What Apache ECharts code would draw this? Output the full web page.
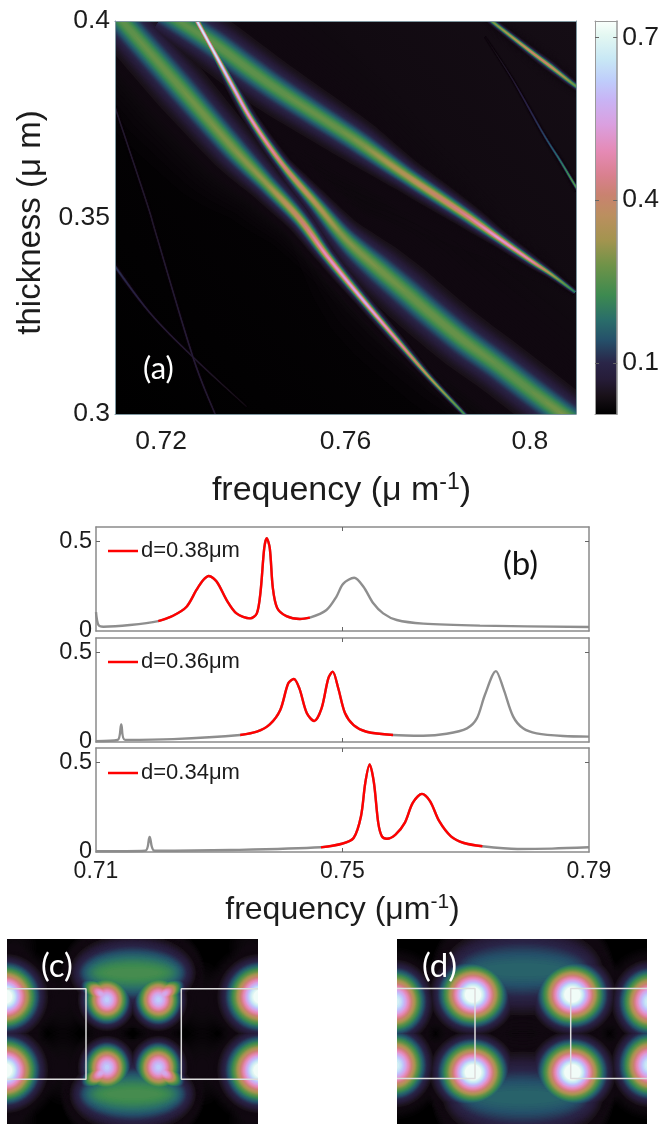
<!DOCTYPE html>
<html><head><meta charset="utf-8">
<style>html,body{margin:0;padding:0;background:#fff}#c{width:662px;height:1124px}</style>
<script src="https://cdn.jsdelivr.net/npm/echarts@6/dist/echarts.min.js"></script>
</head><body><div id="c"></div>
<script>
// ---------- colour scale ----------
const cmapValues = [0,.04,.07,.1,.142,.18,.225,.28,.326,.372,.41,.446,.49,.54,.585,.62,.66,.705,.73];
const cmapColors = ['#000000','#191119','#261c38','#2a2548','#25506a','#2a6e6a','#3d8a50','#6f9348','#a3944f','#bb8f5f','#c98270','#d9808f','#e58ab5','#daa0e0','#c8b4f5','#bfcdfb','#c8e8f5','#e4f8f2','#fafffc'];
const contourLevels = [.006,.008,.01,.012,.014,.016,.018,.02,.0225,.025,.0275,.03,.0325,.035,.04,.045,.05,.055,.06,.065,.07,.075,.08,.085,.09,.095,.1,.105,.11,.115,.12,.125,.13,.135,.14,.145,.15,.155,.16,.165,.17,.175,.18,.185,.19,.195,.2,.205,.21,.215,.22,.225,.23,.235,.24,.245,.25,.26,.27,.28,.29,.3,.31,.32,.33,.34,.35,.36,.37,.38,.39,.4,.41,.42,.43,.44,.45,.46,.47,.48,.49,.5,.52,.54,.56,.58,.6,.62,.64,.66,.68,.7,.72];

// ---------- panel (a): resonance ridges [frequency, thickness, peak, half width] ----------
const ridgeA = [[.7089,.4036,.26,.0025],[.7139,.3969,.27,.0025],[.7241,.3832,.28,.0025],[.7356,.3677,.30,.0021],[.743,.3585,.32,.0015],[.7501,.3496,.41,.001],[.756,.3402,.52,.00065],[.7638,.329,.6,.00045],[.7712,.3188,.5,.0004],[.7783,.3092,.38,.0003],[.7855,.3003,.25,.00026],[.787,.2982,.22,.00026]];
const ridgeB = [[.7267,.4031,.72,.0003],[.7278,.4,.72,.00033],[.7321,.3908,.7,.00035],[.7356,.3832,.62,.0004],[.7399,.3743,.54,.00045],[.7464,.3634,.45,.0006],[.7538,.3532,.36,.0011],[.7588,.3461,.31,.0016],[.7625,.3417,.3,.002],[.7675,.3366,.29,.0024],[.7733,.3308,.28,.0026],[.7783,.3257,.28,.0026],[.7855,.3188,.28,.0026],[.7929,.3125,.27,.0026],[.8,.3061,.27,.0026],[.8059,.301,.29,.0024],[.8109,.2967,.3,.0024]];
const ridgeC = [[.7208,.4023,.26,.0025],[.7313,.3944,.27,.0025],[.7393,.3875,.27,.0025],[.7464,.3817,.27,.0024],[.7588,.3723,.28,.0021],[.7638,.3684,.3,.0019],[.7733,.3606,.36,.0013],[.7855,.3511,.45,.00087],[.7929,.345,.55,.00055],[.8,.3392,.5,.00043],[.8048,.3354,.35,.00035],[.8098,.331,.2,.00028]];
const ridgeD = [[.7905,.4013,.2,.0003],[.792,.3997,.3,.00033],[.8,.3924,.42,.00035],[.8044,.3885,.42,.00039],[.8091,.3842,.3,.00035],[.8109,.3827,.25,.00035]];
const ridgeE = [[.7903,.3959,.03,.00017],[.7963,.385,.07,.00017],[.8028,.3715,.14,.00017],[.8065,.3646,.2,.00017],[.8091,.3595,.27,.00017],[.8104,.357,.28,.00017]];
const ridgeF = [[.71,.3781,.07,.00018],[.7169,.3537,.07,.00018],[.7191,.345,.07,.00018],[.7269,.3145,.08,.00018],[.7317,.3,.07,.00018]];
const ridgeG = [[.7096,.3382,.13,.00022],[.7176,.3257,.08,.00018],[.7269,.3145,.07,.00018],[.7386,.3018,.04,.00018]];
const ridges = [ridgeA,ridgeB,ridgeC,ridgeD,ridgeE,ridgeF,ridgeG];

// ---------- panel (b): spectra [frequency, value] ----------
const spectrum38 = [[.71,.105],[.7104,.033],[.7112,.024],[.7155,.033],[.7201,.055],[.7225,.085],[.7247,.135],[.7263,.228],[.7274,.283],[.7283,.306],[.7296,.274],[.7312,.172],[.7328,.098],[.735,.07],[.7361,.098],[.7367,.218],[.7373,.46],[.7377,.516],[.7382,.46],[.7387,.238],[.7394,.128],[.7409,.083],[.7431,.067],[.7447,.074],[.7474,.117],[.749,.19],[.7501,.262],[.7519,.296],[.7534,.246],[.755,.154],[.7566,.098],[.7588,.061],[.7631,.041],[.7723,.03],[.79,.022]];
const spectrum36 = [[.71,.005],[.7135,.011],[.7141,.098],[.7147,.012],[.7225,.016],[.7334,.039],[.7361,.057],[.7382,.098],[.7399,.178],[.7412,.326],[.7421,.35],[.743,.298],[.7442,.161],[.7454,.117],[.7466,.187],[.7477,.354],[.7484,.391],[.7493,.3],[.7504,.161],[.7518,.094],[.7539,.057],[.7582,.039],[.7631,.035],[.7669,.046],[.7702,.076],[.7718,.131],[.7731,.261],[.7749,.394],[.7761,.298],[.7777,.141],[.7793,.076],[.7815,.048],[.7858,.033],[.79,.03]];
const spectrum34 = [[.71,.004],[.718,.007],[.7187,.084],[.7195,.007],[.7319,.011],[.7465,.026],[.7499,.046],[.7518,.078],[.753,.199],[.7537,.385],[.7544,.487],[.7551,.385],[.7558,.162],[.7564,.087],[.7572,.074],[.7586,.097],[.7601,.162],[.7614,.273],[.7629,.323],[.7642,.283],[.7657,.171],[.7676,.087],[.7697,.05],[.7727,.032],[.7784,.017],[.784,.019],[.79,.026]];
const redRange38 = [.7201,.7447];
const redRange36 = [.7334,.7582];
const redRange34 = [.7465,.7727];
const spectrumNames = ['d=0.38μm','d=0.36μm','d=0.34μm'];

// ---------- panels (c),(d): field lobes of one quadrant [x, y, peak, sx, sy, angle, nx, ny] ----------
const lobesC = [[-2,58,.78,25,25,0,2,2],[100,61,.63,17.5,19,0,2,2],[95,56,.58,18,9,35,2,2],[125.7,34,.24,56,29,0,5,2],[56,61,.03,20,30,0,2,2],[8,8,.025,18,20,0,2,2]];
const lobesD = [[76,56,.8,25,24,0,2,2],[-2,63,.7,23,25,0,2,2],[125.7,31,.17,75,38,0,6,2]];
const boxC = [[[0,50],[79,50],[79,141],[0,141]],[[251,50],[174.3,50],[174.3,141],[251,141]]];
const boxD = [[[0,49.7],[78,49.7],[78,140.3],[0,140.3]],[[250,49.7],[173.7,49.7],[173.7,140.3],[250,140.3]]];

// ---------- tick labels ----------
const ticksAx = [.72,.76,.8], ticksAy = [.3,.35,.4], ticksBar = [.1,.4,.7], ticksBx = [.71,.75,.79], ticksBy = [0,.5];

function hex(c){return [1,3,5].map(i=>parseInt(c.substr(i,2),16));}
function cmap(v){
  const n=cmapValues.length;
  if(v>=cmapValues[n-1])return cmapColors[n-1];
  let i=0; while(v>cmapValues[i+1])i++;
  const t=(v-cmapValues[i])/(cmapValues[i+1]-cmapValues[i]),a=hex(cmapColors[i]),b=hex(cmapColors[i+1]);
  return 'rgb('+a.map((x,k)=>Math.round(x+(b[k]-x)*t)).join(',')+')';
}
// faint contours fade towards the panel's own dark tone, so they never darken it
function contourFill(L){return L<=.035?'rgba(24,15,24,0.13)':cmap(L);}
const axisGrey='#8a8a8a', textCol='#1c1c1c', fam='"Liberation Sans",Arial,sans-serif';

// strip render of one ridge at one contour level
function ridgeItem(params,api){
  const st=ridges[api.value(0)],L=api.value(1);
  if(Math.max.apply(null,st.map(s=>s[2]))<=L)return null;
  const pts=st.map(s=>{const c=api.coord([s[0],s[1]]);const r=api.size([s[3],0])[0];return [c[0],c[1],s[2],r];});
  const S=[];const N=8;
  for(let i=0;i<pts.length-1;i++){
    const p0=pts[Math.max(i-1,0)],p1=pts[i],p2=pts[i+1],p3=pts[Math.min(i+2,pts.length-1)];
    for(let k=0;k<N;k++){const t=k/N,t2=t*t,t3=t2*t;
      const cr=j=>.5*(2*p1[j]+(p2[j]-p0[j])*t+(2*p0[j]-5*p1[j]+4*p2[j]-p3[j])*t2+(3*p1[j]-p0[j]-3*p2[j]+p3[j])*t3);
      S.push([cr(0),cr(1),p1[2]+(p2[2]-p1[2])*t,p1[3]+(p2[3]-p1[3])*t]);}
  }
  S.push(pts[pts.length-1]);
  const up=[],dn=[];
  S.forEach((s,i)=>{const a=S[Math.max(i-1,0)],b=S[Math.min(i+1,S.length-1)];
    let dx=b[0]-a[0],dy=b[1]-a[1],l=Math.hypot(dx,dy)||1;dx/=l;dy/=l;
    const r=s[2]>L?s[3]*Math.sqrt(s[2]/L-1):0;
    up.push([s[0]-dy*r,s[1]+dx*r]);dn.push([s[0]+dy*r,s[1]-dx*r]);});
  return {type:'polygon',shape:{points:up.concat(dn.reverse())},style:{fill:contourFill(L),stroke:null},silent:true};
}
// four-fold mirrored lobes
function mirror(lobes,cx,cy){
  const out=[];
  lobes.forEach(b=>{[[0,0],[1,0],[0,1],[1,1]].forEach(m=>{
    const x=m[0]?2*cx-b[0]:b[0],y=m[1]?2*cy-b[1]:b[1];
    const ang=(m[0]^m[1])?-b[5]:b[5];
    out.push([x,y,b[2],b[3],b[4],ang,b[6],b[7]]);});});
  return out;
}
const fieldC=mirror(lobesC,125.7,95), fieldD=mirror(lobesD,125.7,95);
function lobeItem(field){return function(params,api){
  const b=field[api.value(0)],L=api.value(1);
  if(b[2]<=L)return null;
  const ln=Math.log(b[2]/L),kx=Math.pow(ln,1/b[6]),ky=Math.pow(ln,1/b[7]),c=api.coord([b[0],b[1]]),ux=api.size([1,0])[0],uy=api.size([0,1])[1];
  const a=b[5]*Math.PI/180,P=[];
  for(let i=0;i<48;i++){const th=i/48*2*Math.PI,ex=b[3]*kx*Math.cos(th),ey=b[4]*ky*Math.sin(th);
    P.push([c[0]+ux*(ex*Math.cos(a)-ey*Math.sin(a)),c[1]+uy*(ex*Math.sin(a)+ey*Math.cos(a))]);}
  return {type:'polygon',shape:{points:P},style:{fill:contourFill(L),stroke:null},silent:true};
};}
const byLevel=arr=>contourLevels.flatMap(l=>arr.map((_,i)=>[i,l]));

const grids=[
 {left:115,top:21,width:461,height:393},
 {left:595,top:21,width:24,height:393},
 {left:96,top:527,width:493,height:104},
 {left:96,top:638,width:493,height:104},
 {left:96,top:748,width:493,height:104},
 {left:7,top:939,width:251,height:186},
 {left:397,top:939,width:250,height:186}
];
const mk=(pos,g,o)=>Object.assign({type:'value',gridIndex:g,position:pos,z:6,splitLine:{show:false},
  axisLine:{show:true,onZero:false,lineStyle:{color:axisGrey,width:1.5}},axisTick:{show:false},axisLabel:{show:false}},o);
const tick={show:true,inside:true,length:4,lineStyle:{color:'#666',width:1}};
const lab=(size,vals,fmt,margin)=>({show:true,customValues:vals,formatter:fmt,fontSize:size,fontFamily:fam,color:textCol,margin,showMinLabel:true,showMaxLabel:true,hideOverlap:false});
const fx=v=>String(+v.toFixed(2));
const sup={a:{fontSize:34,fontFamily:fam,color:textCol},b:{fontSize:23,fontFamily:fam,color:textCol,padding:[0,0,16,0]}};
const supB={a:{fontSize:32,fontFamily:fam,color:textCol},b:{fontSize:21,fontFamily:fam,color:textCol,padding:[0,0,15,0]}};

const xRange=[[.71,.81],[0,1],[.71,.79],[.71,.79],[.71,.79],[0,251],[0,250]];
const yRange=[[.3,.4],[.006,.73],[0,.578],[0,.578],[0,.578],[0,186],[0,186]];
const frameCol=['#7f97a0','#999',axisGrey,axisGrey,axisGrey,'#ddd','#ddd'];
const xAxis=[],yAxis=[];
grids.forEach((g,i)=>{
  const line={show:i<5,onZero:false,lineStyle:{color:frameCol[i],width:i<2?1:1.5}};
  const xo={min:xRange[i][0],max:xRange[i][1],axisLine:line},yo={min:yRange[i][0],max:yRange[i][1],axisLine:line};
  if(i===0){
    xo.axisLabel=lab(26.5,ticksAx,fx,14);
    xo.name='{a|frequency (μ m}{b|-1}{a|)}';xo.nameLocation='middle';xo.nameGap=57;xo.nameTextStyle={rich:sup,padding:[0,8,0,0]};
    yo.axisLabel=lab(26.5,ticksAy,fx,5);
    yo.name='thickness (μ m)';yo.nameLocation='middle';yo.nameGap=64;yo.nameTextStyle={fontSize:33,fontFamily:fam,color:textCol,padding:[0,10,0,0]};
  }
  if(i>=2&&i<=4){
    xo.axisTick=Object.assign({},tick,{customValues:[.75]});
    yo.axisTick=Object.assign({},tick,{customValues:[.5]});
    yo.axisLabel=lab(23.5,ticksBy,fx,4);
    if(i===4){xo.axisLabel=lab(23,ticksBx,fx,8);
      xo.name='{a|frequency (μm}{b|-1}{a|)}';xo.nameLocation='middle';xo.nameGap=40;xo.nameTextStyle={rich:supB};}
  }
  if(i>=5){yo.inverse=true;}
  xAxis[i]=mk('bottom',i,xo);yAxis[i]=mk('left',i,yo);
});
// frame sides (top / right) and mirrored ticks
grids.forEach((g,i)=>{
  const line={show:i<5,onZero:false,lineStyle:{color:frameCol[i],width:i<2?1:1.5}};
  const xo={min:xRange[i][0],max:xRange[i][1],axisLine:line},yo={min:yRange[i][0],max:yRange[i][1],axisLine:line};
  if(i>=2&&i<=4){xo.axisTick=Object.assign({},tick,{customValues:[.75]});yo.axisTick=Object.assign({},tick,{customValues:[.5]});}
  xAxis.push(mk('top',i,xo));yAxis.push(mk('right',i,yo));
});
// colour bar ticks and labels
yAxis[1+7]=mk('right',1,{min:.006,max:.73,axisLine:{show:true,onZero:false,lineStyle:{color:'#999',width:1.5}},
  axisTick:Object.assign({},tick,{customValues:ticksBar}),axisLabel:lab(26.5,ticksBar,fx,5)});
yAxis[1].axisTick=Object.assign({},tick,{customValues:ticksBar});

const series=[];
// panel (a)
series.push({type:'custom',name:'background',xAxisIndex:0,yAxisIndex:0,silent:true,animation:false,data:[[.71,.3]],clip:true,
  renderItem(p,api){const a=api.coord([.71,.4]),b=api.coord([.81,.3]);
    return {type:'rect',shape:{x:a[0],y:a[1],width:b[0]-a[0],height:b[1]-a[1]},
      style:{fill:new echarts.graphic.LinearGradient(0,1,1,0,[{offset:0,color:'#000'},{offset:.4,color:'#040204'},{offset:.7,color:'#110a11'},{offset:1,color:'#150d15'}])}};}});
series.push({type:'custom',name:'map',xAxisIndex:0,yAxisIndex:0,silent:true,animation:false,clip:true,data:byLevel(ridges),renderItem:ridgeItem});
// colour bar
series.push({type:'custom',name:'colorbar',xAxisIndex:1,yAxisIndex:1,silent:true,animation:false,data:[[0,.006]],
  renderItem(p,api){const a=api.coord([0,.73]),b=api.coord([1,.006]);
    return {type:'rect',shape:{x:a[0],y:a[1],width:b[0]-a[0],height:b[1]-a[1]},
      style:{fill:new echarts.graphic.LinearGradient(0,0,0,1,cmapValues.map((v,i)=>({offset:Math.min(1,Math.max(0,(.73-v)/(.724))),color:cmapColors[i]})).reverse())}};}});
// panel (b)
[[spectrum38,redRange38],[spectrum36,redRange36],[spectrum34,redRange34]].forEach((s,i)=>{
  const g=i+2;
  series.push({type:'line',name:'full'+i,xAxisIndex:g,yAxisIndex:g,data:s[0],showSymbol:false,smooth:.3,animation:false,silent:true,
    lineStyle:{color:'#8e8e8e',width:2.4}});
  series.push({type:'line',name:spectrumNames[i],xAxisIndex:g,yAxisIndex:g,data:s[0].filter(p=>p[0]>=s[1][0]&&p[0]<=s[1][1]),showSymbol:false,smooth:.3,animation:false,silent:true,
    itemStyle:{color:'#ff0000'},lineStyle:{color:'#ff0000',width:2.4}});
});
// panels (c),(d)
[[fieldC,5,boxC],[fieldD,6,boxD]].forEach(f=>{
  const g=f[1];
  series.push({type:'custom',name:'bg'+g,xAxisIndex:g,yAxisIndex:g,silent:true,animation:false,data:[[0,0]],
    renderItem(p,api){const a=api.coord([0,0]),b=api.coord([xRange[g][1],186]);
      return {type:'rect',shape:{x:a[0],y:a[1],width:b[0]-a[0],height:b[1]-a[1]},style:{fill:'#000'}};}});
  series.push({type:'custom',name:'field'+g,xAxisIndex:g,yAxisIndex:g,silent:true,animation:false,clip:true,data:byLevel(f[0]),renderItem:lobeItem(f[0])});
  f[2].forEach((b,k)=>series.push({type:'line',name:'box'+g+k,xAxisIndex:g,yAxisIndex:g,data:b,showSymbol:false,animation:false,silent:true,z:5,
    lineStyle:{color:'#dcdcdc',width:1.5}}));
});

const legendAt=(i,top)=>({data:[spectrumNames[i]],left:108,top,padding:0,itemWidth:30,itemHeight:2.5,icon:'rect',itemGap:0,
  textStyle:{fontSize:22,fontFamily:fam,color:textCol,padding:[0,0,0,-2]},selectedMode:false});
const labelFont='Lato,"Open Sans",sans-serif';
const chart=echarts.init(document.getElementById('c'),null,{renderer:'canvas'});
chart.setOption({
  animation:false,backgroundColor:'#fff',
  grid:grids,xAxis,yAxis,series,
  legend:[legendAt(0,540),legendAt(1,651),legendAt(2,762)],
  graphic:[
    {type:'text',left:143,top:353,z:20,style:{text:'(a)',fontSize:31,fontFamily:labelFont,fill:'#fff'}},
    {type:'text',left:503,top:548,z:20,style:{text:'(b)',fontSize:33,fontFamily:labelFont,fill:'#111'}},
    {type:'text',left:41,top:950,z:20,style:{text:'(c)',fontSize:33,fontFamily:labelFont,fill:'#fff'}},
    {type:'text',left:422,top:950,z:20,style:{text:'(d)',fontSize:33,fontFamily:labelFont,fill:'#fff'}}
  ]
});
</script></body></html>
